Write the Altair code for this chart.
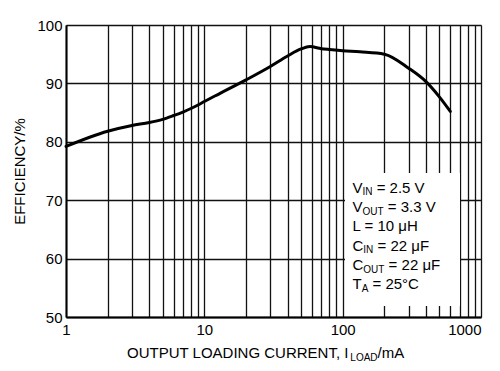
import altair as alt
import pandas as pd

FONT = "Liberation Sans"

# Efficiency curve
load_ma = [1, 2, 3, 4, 5, 6, 7, 8, 9, 10, 13, 20, 30, 40, 50, 58, 70, 80, 100, 133, 200, 300, 400, 500, 600]
efficiency = [79.2, 81.8, 82.8, 83.3, 83.85, 84.5, 85.1, 85.7, 86.3, 86.9, 88.3, 90.6, 92.9, 94.7, 95.9,
              96.3, 95.95, 95.8, 95.6, 95.4, 95.0, 92.6, 90.3, 87.7, 85.2]

# Axes
x_grid = [m * d for d in (1, 10, 100) for m in range(1, 10)] + [1000]
x_labels = [1, 10, 100, 1000]
y_grid = [50, 60, 70, 80, 90, 100]
y_title = "EFFICIENCY/%"
x_title_main = "OUTPUT LOADING CURRENT, I"
x_title_sub = "LOAD"
x_title_rest = "/mA"

# Annotation (main, subscript, rest)
ann_main = ["V", "V", "L = 10 μH", "C", "C", "T"]
ann_sub = ["IN", "OUT", "", "IN", "OUT", "A"]
ann_rest = [" = 2.5 V", " = 3.3 V", "", " = 22 μF", " = 22 μF", " = 25°C"]

# Arial / Liberation Sans advance widths (per 1000 em)
W = {" ": 278, "=": 584, ".": 278, ",": 278, "/": 278, "°": 400, "μ": 576, "m": 833,
     "A": 667, "C": 722, "D": 722, "E": 667, "F": 611, "G": 778, "H": 722, "I": 278,
     "L": 556, "N": 722, "O": 778, "P": 667, "R": 722, "T": 611, "U": 722, "V": 667}
for dgt in "0123456789":
    W[dgt] = 556


def tw(s, size):
    return sum(W.get(c, 556) for c in s) * size / 1000.0


df = pd.DataFrame({"load": load_ma, "eff": efficiency})
anchor = pd.DataFrame({"a": [0]})

label_test = "indexof([" + ",".join(str(v) for v in x_labels) + "], datum.value) >= 0"

x_enc = alt.X(
    "load:Q",
    scale=alt.Scale(type="log", domain=[1, 1000], nice=False),
    axis=alt.Axis(
        values=x_grid,
        labelExpr=label_test + " ? format(datum.value, 'd') : ''",
        title=None,
        grid=True, gridColor="#111111", gridWidth=1.3,
        ticks=False,
        domainColor="#000000", domainWidth=2,
        labelFont=FONT, labelFontSize=15, labelColor="#000000",
        labelPadding=5, labelFlush=False, labelOverlap=False, labelBound=False,
        labelAlign={"condition": {"test": "datum.value == 1000", "value": "right"}, "value": "center"},
    ),
)
y_enc = alt.Y(
    "eff:Q",
    scale=alt.Scale(domain=[50, 100], nice=False, zero=False),
    axis=alt.Axis(
        values=y_grid,
        title=y_title,
        titleFont=FONT, titleFontSize=15, titleFontWeight="normal", titleColor="#000000",
        titleAngle=270, titleAlign="center", titleBaseline="middle",
        titleX=-47, titleY=146,
        grid=True, gridColor="#111111", gridWidth=1.3,
        ticks=False,
        domainColor="#000000", domainWidth=2,
        labelFont=FONT, labelFontSize=15, labelColor="#000000",
        labelPadding=4,
    ),
)

curve = alt.Chart(df).mark_line(
    color="#000000", strokeWidth=3, interpolate="monotone", strokeCap="round"
).encode(x=x_enc, y=y_enc)

box = alt.Chart(anchor).mark_rect(color="white").encode(
    x=alt.value(279), x2=alt.value(394), y=alt.value(148), y2=alt.value(281)
)


def seg(text, x, y, size):
    # SVG drops leading blanks, so shift by their width instead
    lead = len(text) - len(text.lstrip(" "))
    x += tw(" " * lead, size)
    return alt.Chart(anchor).mark_text(
        text=text.lstrip(" "), align="left", baseline="alphabetic", font=FONT,
        fontSize=size, color="#000000"
    ).encode(x=alt.value(x), y=alt.value(y))


layers = [curve, box]

ANN_X = 286.5
ANN_Y0 = 167.8
ANN_DY = 19.3
MAIN = 15
SUB = 10
SUB_DROP = 2.5
for i, (m, s, r) in enumerate(zip(ann_main, ann_sub, ann_rest)):
    yb = ANN_Y0 + i * ANN_DY
    layers.append(seg(m, ANN_X, yb, MAIN))
    xs = ANN_X + tw(m, MAIN)
    if s:
        layers.append(seg(s, xs, yb + SUB_DROP, SUB))
        xs += tw(s, SUB)
    if r:
        layers.append(seg(r, xs, yb, MAIN))

TX = 61
TY = 333.3
layers.append(seg(x_title_main, TX, TY, MAIN))
tx2 = TX + tw(x_title_main, MAIN)
layers.append(seg(x_title_sub, tx2, TY + SUB_DROP, SUB))
tx3 = tx2 + tw(x_title_sub, SUB)
layers.append(seg(x_title_rest, tx3, TY, MAIN))

chart = alt.layer(*layers).properties(
    width=415, height=292,
    padding={"left": 58, "top": 17, "right": 10, "bottom": 50},
    autosize=alt.AutoSizeParams(type="none"),
    background="white",
).configure_view(strokeWidth=0)

chart.save("out.html", embed_options={"renderer": "svg", "actions": False})
